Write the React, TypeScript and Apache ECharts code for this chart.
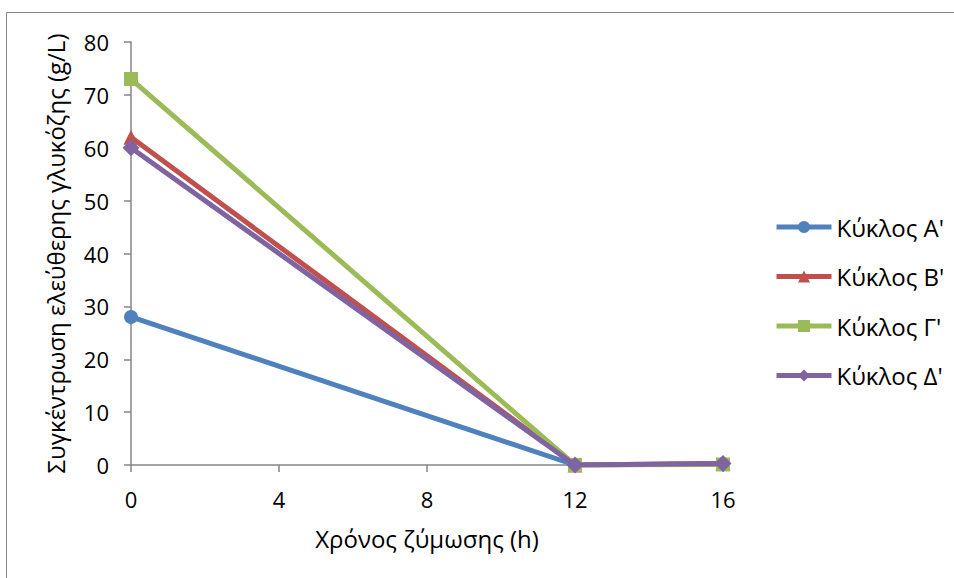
import React, { useEffect, useRef } from "react";
import * as echarts from "echarts";

const timeH = [0, 12, 16];
const cycleA = [28, 0, 0.2];
const cycleB = [62, 0, 0.3];
const cycleG = [73, 0, 0.1];
const cycleD = [60, 0, 0.3];
const seriesNames = ["Κύκλος Α'", "Κύκλος Β'", "Κύκλος Γ'", "Κύκλος Δ'"];
const colors = ["#4F81BD", "#C0504D", "#9BBB59", "#8064A2"];
const symbols = ["circle", "triangle", "rect", "diamond"];
const symbolSizes = [14, 15, 14, 17];

const FONT = "Open Sans";
const FS = 22;
const FS_NAME = 24;

export default function App() {
  const ref = useRef<HTMLDivElement>(null);
  useEffect(() => {
    if (!ref.current) return;
    const chart = echarts.init(ref.current, undefined, { renderer: "svg" });
    const values = [cycleA, cycleB, cycleG, cycleD];
    chart.setOption({
      animation: false,
      backgroundColor: "#ffffff",
      textStyle: { fontFamily: FONT },
      graphic: [
        {
          type: "rect",
          shape: { x: 6.5, y: 12.5, width: 1000, height: 700 },
          style: { fill: "none", stroke: "#868686", lineWidth: 1 },
          silent: true,
        },
      ],
      grid: { left: 131, right: 231, top: 42, bottom: 113 },
      legend: {
        orient: "vertical",
        left: 769,
        top: 210,
        itemWidth: 55,
        itemHeight: 15,
        itemGap: 25.5,
        lineStyle: { width: 5 },
        textStyle: { fontFamily: FONT, fontSize: FS_NAME, color: "#000", padding: [0, 0, 0, 0] },
        data: seriesNames,
      },
      xAxis: {
        type: "value",
        min: 0,
        max: 16,
        interval: 4,
        name: "Χρόνος ζύμωσης (h)",
        nameLocation: "middle",
        nameGap: 61,
        nameTextStyle: { fontFamily: FONT, fontSize: FS_NAME, color: "#000" },
        axisLine: { lineStyle: { color: "#868686", width: 1.5 } },
        axisTick: { show: true, length: 7, lineStyle: { color: "#868686", width: 1.5 } },
        axisLabel: { margin: 23, fontFamily: FONT, fontSize: FS, color: "#000" },
        splitLine: { show: false },
      },
      yAxis: {
        type: "value",
        min: 0,
        max: 80,
        interval: 10,
        name: "Συγκέντρωση ελεύθερης γλυκόζης (g/L)",
        nameLocation: "middle",
        nameGap: 64,
        nameTextStyle: { fontFamily: FONT, fontSize: FS_NAME, color: "#000" },
        axisLine: { show: true, lineStyle: { color: "#868686", width: 1.5 } },
        axisTick: { show: true, length: 7, lineStyle: { color: "#868686", width: 1.5 } },
        axisLabel: { margin: 22, fontFamily: FONT, fontSize: FS, color: "#000" },
        splitLine: { show: false },
      },
      series: values.map((vals, i) => ({
        name: seriesNames[i],
        type: "line",
        data: timeH.map((t, j) => [t, vals[j]]),
        symbol: symbols[i],
        symbolSize: symbolSizes[i],
        showAllSymbol: true,
        lineStyle: { color: colors[i], width: 5 },
        itemStyle: { color: colors[i] },
        z: 2 + i,
      })),
    });
    return () => chart.dispose();
  }, []);
  return (
    <div
      ref={ref}
      style={{ position: "fixed", left: 0, top: 0, width: 954, height: 578 }}
    />
  );
}
